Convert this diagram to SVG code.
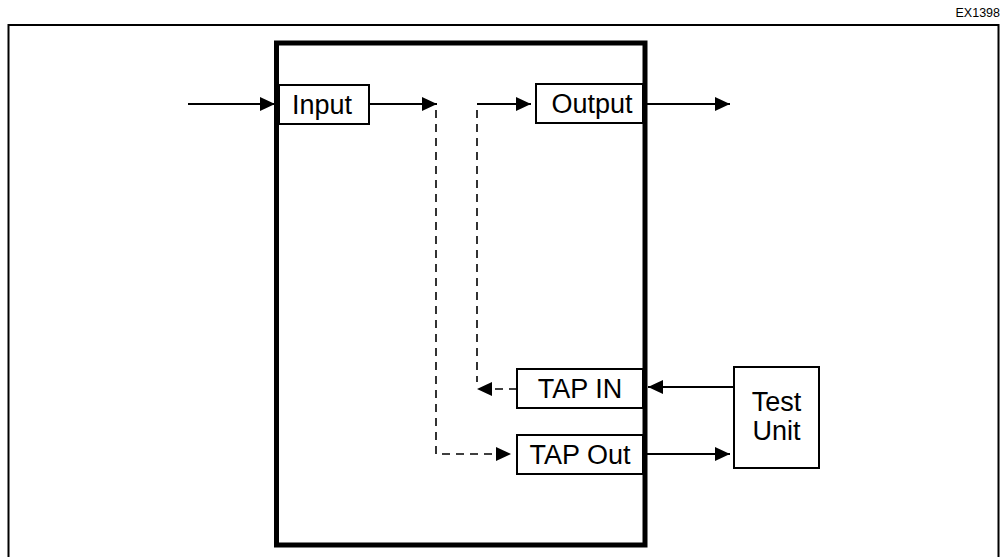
<svg xmlns="http://www.w3.org/2000/svg" width="1005" height="557" viewBox="0 0 1005 557">
<defs>
<style>
.box{fill:#fff;stroke:#000;stroke-width:2}
.lbl{font-family:"Liberation Sans",Arial,sans-serif;font-size:27px;fill:#000;text-anchor:middle}
.ln{fill:none;stroke:#000;stroke-width:2}
.dash{fill:none;stroke:#000;stroke-width:1.6;stroke-dasharray:8,6}
</style>
<marker id="ah" markerUnits="userSpaceOnUse" markerWidth="15" markerHeight="14" refX="15" refY="7" orient="auto">
<path d="M0,0 L15,7 L0,14 z" fill="#000"/>
</marker>
</defs>
<rect width="1005" height="557" fill="#fff"/>
<text x="1000" y="17" font-family="Liberation Sans,Arial,sans-serif" font-size="12.5" text-anchor="end">EX1398</text>
<rect x="8.5" y="25" width="990" height="545" fill="none" stroke="#000" stroke-width="2"/>
<g id="system">
<rect x="276.5" y="43" width="368.5" height="502" fill="#fff" stroke="#000" stroke-width="5"/>
</g>
<g id="connectors">
<path class="ln" d="M188,104 H275" marker-end="url(#ah)"/>
<path class="ln" d="M369,104 H437" marker-end="url(#ah)"/>
<path class="dash" d="M436,110 V454 H511" marker-end="url(#ah)"/>
<path class="ln" d="M477,104 H531" marker-end="url(#ah)"/>
<path class="dash" d="M477,110 V382"/>
<path class="dash" d="M517,389 H477" marker-end="url(#ah)"/>
<path class="ln" d="M644,104 H730" marker-end="url(#ah)"/>
<path class="ln" d="M734,387 H648" marker-end="url(#ah)"/>
<path class="ln" d="M646,454 H730" marker-end="url(#ah)"/>
</g>
<g id="input">
<rect class="box" x="279" y="85" width="90" height="39"/>
<text class="lbl" x="322" y="114">Input</text>
</g>
<g id="output">
<rect class="box" x="536" y="84" width="107" height="39"/>
<text class="lbl" x="592" y="113">Output</text>
</g>
<g id="tap-in">
<rect class="box" x="517" y="369" width="126" height="39"/>
<text class="lbl" x="580" y="398">TAP IN</text>
</g>
<g id="tap-out">
<rect class="box" x="517" y="435" width="126" height="39"/>
<text class="lbl" x="580" y="464">TAP Out</text>
</g>
<g id="test-unit">
<rect class="box" x="734" y="367" width="85" height="101"/>
<text class="lbl" x="776.5" y="411">Test</text>
<text class="lbl" x="776.5" y="440">Unit</text>
</g>
</svg>
